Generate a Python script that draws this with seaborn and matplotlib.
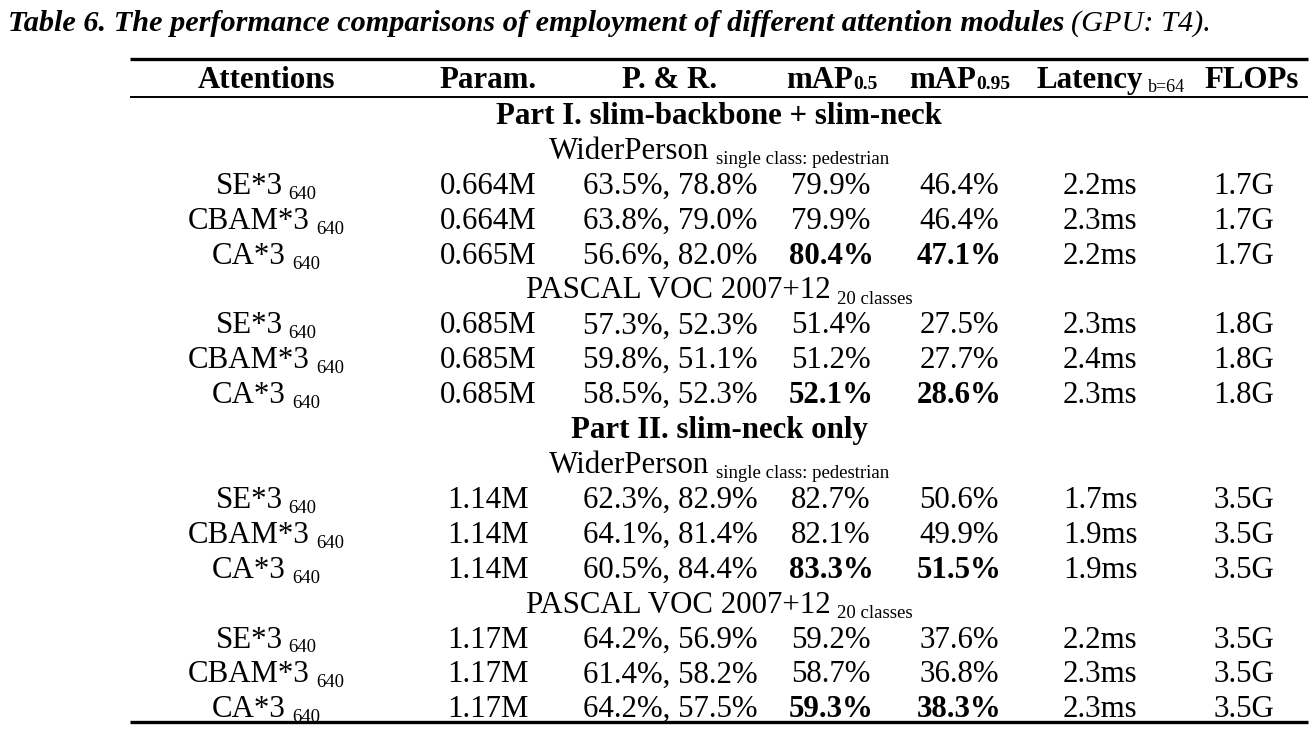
import matplotlib
matplotlib.use("Agg")
import matplotlib.pyplot as plt
import seaborn as sns
import numpy as np

# ---------------- data ----------------
title_main = "Table 6. The performance comparisons of employment of different attention modules"
title_note = "(GPU: T4)."
headers = ["Attentions", "Param.", "P. & R.", "mAP", "mAP", "Latency", "FLOPs"]
header_subs = ["", "", "", "0.5", "0.95", "b=64", ""]
parts = ["Part I. slim-backbone + slim-neck", "Part II. slim-neck only"]
datasets = ["WiderPerson", "PASCAL VOC 2007+12"]
dataset_notes = ["single class: pedestrian", "20 classes"]
attentions = ["SE*3", "CBAM*3", "CA*3"]
att_sub = "640"

# values per part -> dataset -> attention
params = [[["0.664M", "0.664M", "0.665M"], ["0.685M", "0.685M", "0.685M"]],
          [["1.14M", "1.14M", "1.14M"], ["1.17M", "1.17M", "1.17M"]]]
precision = [[[63.5, 63.8, 56.6], [57.3, 59.8, 58.5]],
             [[62.3, 64.1, 60.5], [64.2, 61.4, 64.2]]]
recall = [[[78.8, 79.0, 82.0], [52.3, 51.1, 52.3]],
          [[82.9, 81.4, 84.4], [56.9, 58.2, 57.5]]]
map50 = [[[79.9, 79.9, 80.4], [51.4, 51.2, 52.1]],
         [[82.7, 82.1, 83.3], [59.2, 58.7, 59.3]]]
map95 = [[[46.4, 46.4, 47.1], [27.5, 27.7, 28.6]],
         [[50.6, 49.9, 51.5], [37.6, 36.8, 38.3]]]
latency = [[[2.2, 2.3, 2.2], [2.3, 2.4, 2.3]],
           [[1.7, 1.9, 1.9], [2.2, 2.3, 2.3]]]
flops = [[[1.7, 1.7, 1.7], [1.8, 1.8, 1.8]],
         [[3.5, 3.5, 3.5], [3.5, 3.5, 3.5]]]

# ---------------- style / layout ----------------
sns.set_theme(style="white")
plt.rcParams["font.family"] = ["Liberation Serif", "DejaVu Serif"]

W, H = 1314, 734
fig = plt.figure(figsize=(W / 100, H / 100), dpi=100)
ax = fig.add_axes([0, 0, 1, 1])
ax.set_xlim(0, W)
ax.set_ylim(H, 0)
ax.axis("off")
renderer = fig.canvas.get_renderer()

FS = 22.2    # main size (pt)
SUB = 13.5   # subscript size

col_x = [266, 488, 670, 831, 959, 1100, 1244]
head_x = [267, 488, 670, 832, 960, 1111, 1252]
table_l, table_r = 130, 1308
table_c = (table_l + table_r) / 2


def rich(xc, yb, pieces, align="center"):
    """pieces: (text, size, weight, style, dy, gap_before)"""
    objs = []
    for s, size, weight, style, dy, gap in pieces:
        t = ax.text(0, yb + dy, s, fontsize=size, fontweight=weight,
                    fontstyle=style, va="baseline", ha="left", color="black")
        objs.append((t, gap))
    widths = [t.get_window_extent(renderer).width for t, _ in objs]
    total = sum(widths) + sum(g for _, g in objs)
    x = xc - total / 2 if align == "center" else xc
    for (t, gap), w in zip(objs, widths):
        x += gap
        t.set_x(x)
        x += w


# title
rich(8, 31, [(title_main, 21.8, "bold", "italic", 0, 0),
             (title_note, 21.8, "normal", "italic", 0, 7)], align="left")

# rules
ax.plot([table_l, table_r], [59, 59], color="black", lw=2.4, solid_capstyle="butt")
ax.plot([table_l, table_r], [97, 97], color="black", lw=1.4, solid_capstyle="butt")
ax.plot([table_l, table_r], [722, 722], color="black", lw=2.4, solid_capstyle="butt")

# header
hy = 78 + 10
for i, (h, s) in enumerate(zip(headers, header_subs)):
    pcs = [(h, FS, "bold", "normal", 0, 0)]
    if s:
        if h == "Latency":
            pcs.append((s, 13, "normal", "normal", 4, 5))
        else:
            pcs.append((s, 14, "bold", "normal", 1, 0))
    rich(head_x[i], hy, pcs)

row0, step = 114, 34.9
k = 0
for p, part in enumerate(parts):
    rich(table_c, row0 + step * k + 10, [(part, FS, "bold", "normal", 0, 0)])
    k += 1
    for d, ds in enumerate(datasets):
        rich(table_c, row0 + step * k + 10,
             [(ds, FS, "normal", "normal", 0, 0),
              (dataset_notes[d], SUB, "normal", "normal", 5, 6)])
        k += 1
        best50 = max(map50[p][d])
        best95 = max(map95[p][d])
        for a, att in enumerate(attentions):
            yb = row0 + step * k + 10
            rich(col_x[0], yb, [(att, FS, "normal", "normal", 0, 0),
                                (att_sub, SUB, "normal", "normal", 5, 6)])
            rich(col_x[1], yb, [(params[p][d][a], FS, "normal", "normal", 0, 0)])
            rich(col_x[2], yb, [(f"{precision[p][d][a]:.1f}%, {recall[p][d][a]:.1f}%",
                                 FS, "normal", "normal", 0, 0)])
            v = map50[p][d][a]
            rich(col_x[3], yb, [(f"{v:.1f}%", FS, "bold" if v == best50 else "normal",
                                 "normal", 0, 0)])
            v = map95[p][d][a]
            rich(col_x[4], yb, [(f"{v:.1f}%", FS, "bold" if v == best95 else "normal",
                                 "normal", 0, 0)])
            rich(col_x[5], yb, [(f"{latency[p][d][a]:.1f}ms", FS, "normal", "normal", 0, 0)])
            rich(col_x[6], yb, [(f"{flops[p][d][a]:.1f}G", FS, "normal", "normal", 0, 0)])
            k += 1

fig.savefig("out.png", dpi=100, facecolor="white")
